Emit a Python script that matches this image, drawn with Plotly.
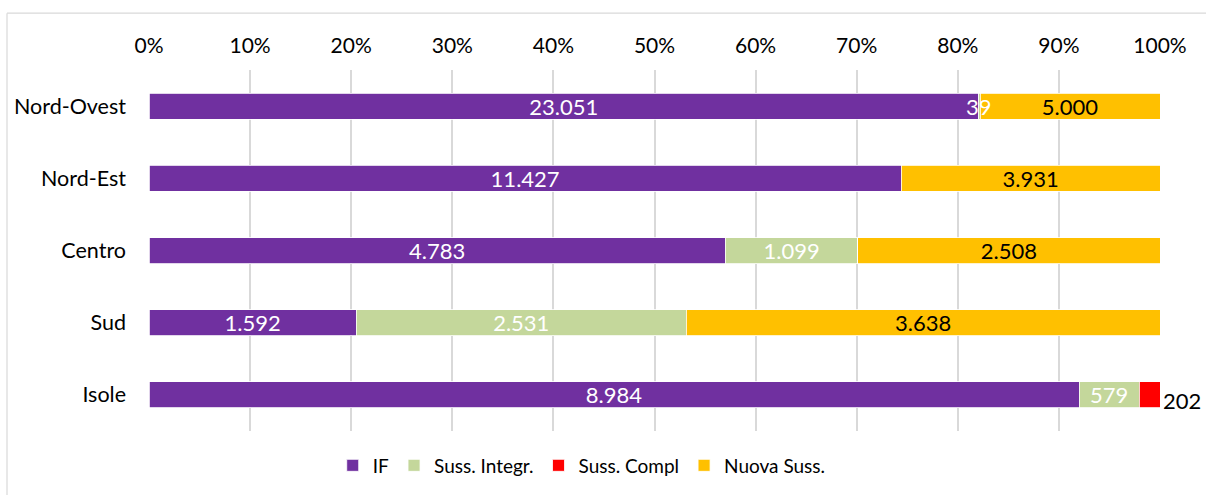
import plotly.graph_objects as go

categories = ["Nord-Ovest", "Nord-Est", "Centro", "Sud", "Isole"]
series_names = ["IF", "Suss. Integr.", "Suss. Compl", "Nuova Suss."]
if_vals = [23051, 11427, 4783, 1592, 8984]
integr_vals = [39, 0, 1099, 2531, 579]
compl_vals = [0, 0, 0, 0, 202]
nuova_vals = [5000, 3931, 2508, 3638, 0]
tick_vals = [0, 10, 20, 30, 40, 50, 60, 70, 80, 90, 100]
tick_text = [f"{v}%" for v in tick_vals]

colors = ["#7030A0", "#C4D79B", "#FF0000", "#FFC000"]
text_colors = ["white", "white", "black", "black"]
all_vals = [if_vals, integr_vals, compl_vals, nuova_vals]

def fmt(v):
    return f"{v:,}".replace(",", ".") if v else ""

FONT = "Lato"
BAR_FS = 22
W, H = 1206, 495
ML, MR, MT, MB = 149, 46, 70, 63
PW, PH = W - ML - MR, H - MT - MB

fig = go.Figure()
totals = [sum(t) for t in zip(*all_vals)]

for k, (name, vals, col, tcol) in enumerate(zip(series_names, all_vals, colors, text_colors)):
    inside_text = []
    for i, v in enumerate(vals):
        pct = 100 * v / totals[i]
        start = 100 * sum(all_vals[j][i] for j in range(k)) / totals[i]
        if name == "Suss. Compl":
            inside_text.append("")
            if v:
                fig.add_annotation(x=start + pct, y=categories[i], text=fmt(v), showarrow=False,
                                   xanchor="left", xshift=1, yshift=-6,
                                   font=dict(color="black", size=BAR_FS, family=FONT))
        elif v and pct < 2:
            inside_text.append("")
            fig.add_annotation(x=start + pct / 2, y=categories[i], text=fmt(v), showarrow=False,
                               xanchor="center", font=dict(color=tcol, size=BAR_FS, family=FONT))
        else:
            inside_text.append(fmt(v))
    fig.add_trace(go.Bar(
        y=categories, x=vals, name=name, orientation="h",
        marker=dict(color=col, line=dict(color="white", width=0.8)),
        text=inside_text,
        textposition="inside",
        insidetextanchor="middle",
        constraintext="none",
        textfont=dict(color=tcol, size=BAR_FS, family=FONT),
        hoverinfo="x+y+name",
    ))

# outer frame (top and left edges)
ftop = 1 + (MT - 13) / PH
fleft = (7 - ML) / PW
fig.add_shape(type="line", xref="paper", yref="paper",
              x0=fleft, x1=1.1, y0=ftop, y1=ftop,
              line=dict(color="#D9D9D9", width=1.2))
fig.add_shape(type="line", xref="paper", yref="paper",
              x0=fleft, x1=fleft, y0=-0.3, y1=ftop,
              line=dict(color="#D9D9D9", width=1.2))

fig.update_layout(
    barmode="stack", barnorm="percent", bargap=0.64,
    width=W, height=H,
    margin=dict(l=ML, r=MR, t=MT, b=MB),
    paper_bgcolor="white", plot_bgcolor="white",
    font=dict(family=FONT, size=20, color="black"),
    legend=dict(orientation="h", x=0.428, xanchor="center", y=-0.04, yanchor="top",
                font=dict(size=19, family=FONT), itemwidth=30, traceorder="normal"),
    showlegend=True,
)
fig.update_xaxes(side="top", range=[0, 100], tickvals=tick_vals, ticktext=tick_text,
                 showgrid=True, gridcolor="#D9D9D9", gridwidth=1.5, zeroline=False,
                 tickfont=dict(size=21, family=FONT), ticks="", ticklabelstandoff=12,
                 fixedrange=True, automargin=False)
fig.update_yaxes(categoryorder="array", categoryarray=categories, autorange="reversed",
                 tickfont=dict(size=21.5, family=FONT), ticks="", ticklabelstandoff=22,
                 showgrid=False, automargin=False)

fig.write_html(
    "out.html",
    config={"displayModeBar": False},
    post_script="document.body.style.margin='0';document.body.style.overflow='hidden';",
)
